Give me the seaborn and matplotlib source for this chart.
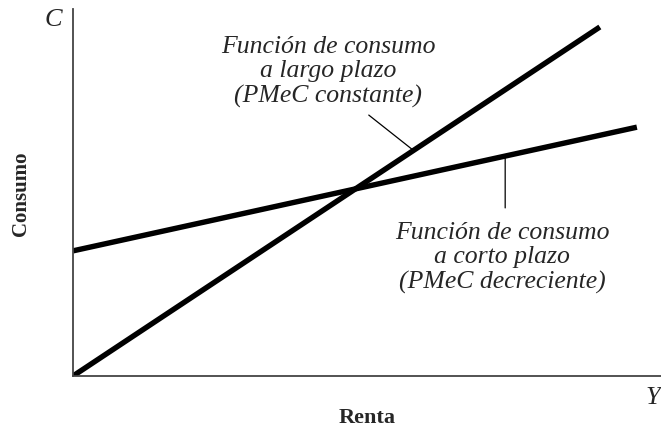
import pandas as pd
import numpy as np
import matplotlib
matplotlib.use("Agg")
import matplotlib.pyplot as plt
import seaborn as sns

# data for the two consumption functions (income vs consumption, arbitrary units)
renta_largo = [0, 89.6]
consumo_largo = [0, 95.1]
renta_corto = [0, 95.9]
consumo_corto = [34.1, 67.8]

texto_largo = "Función de consumo\na largo plazo\n(PMeC constante)"
texto_corto = "Función de consumo\na corto plazo\n(PMeC decreciente)"

df = pd.concat([
    pd.DataFrame({"Renta": renta_largo, "Consumo": consumo_largo, "curva": "largo"}),
    pd.DataFrame({"Renta": renta_corto, "Consumo": consumo_corto, "curva": "corto"}),
])

sns.set_style("white")
plt.rcParams['font.family'] = ['Liberation Serif', 'DejaVu Serif']

fig = plt.figure(figsize=(6.61, 4.27), dpi=100)
ax = fig.add_axes([73/661, 50/427, 588/661, 367/427])

sns.lineplot(data=df, x="Renta", y="Consumo", units="curva", estimator=None,
             color="black", linewidth=3.9, ax=ax, solid_capstyle="butt")

ax.set_xlim(0, 100)
ax.set_ylim(0, 100)
ax.set_xticks([])
ax.set_yticks([])
for s in ["top", "right"]:
    ax.spines[s].set_visible(False)
for s in ["left", "bottom"]:
    ax.spines[s].set_color("#444444")
    ax.spines[s].set_linewidth(1.3)

ax.set_xlabel("Renta", fontsize=16, fontweight="bold", labelpad=22)
ax.set_ylabel("Consumo", fontsize=15, fontweight="bold", labelpad=30)

# axis symbols
ax.text(-3.4, 97.3, "C", fontsize=19, style="italic", ha="center", va="center")
ax.text(98.6, -5.6, "Y", fontsize=19, style="italic", ha="center", va="center")

# leader lines
ax.annotate("", xy=(57.8, 61.6), xytext=(50.3, 71.1),
            arrowprops=dict(arrowstyle="-", color="black", lw=0.9, shrinkA=0, shrinkB=0))
ax.annotate("", xy=(73.5, 59.3), xytext=(73.5, 45.8),
            arrowprops=dict(arrowstyle="-", color="black", lw=0.9, shrinkA=0, shrinkB=0))

# labels
ax.text(43.4, 83.1, texto_largo, fontsize=18.5, style="italic",
        ha="center", va="center", linespacing=1.15)
ax.text(73.0, 32.4, texto_corto, fontsize=18.5, style="italic",
        ha="center", va="center", linespacing=1.15)

plt.savefig("out.png", dpi=100)
